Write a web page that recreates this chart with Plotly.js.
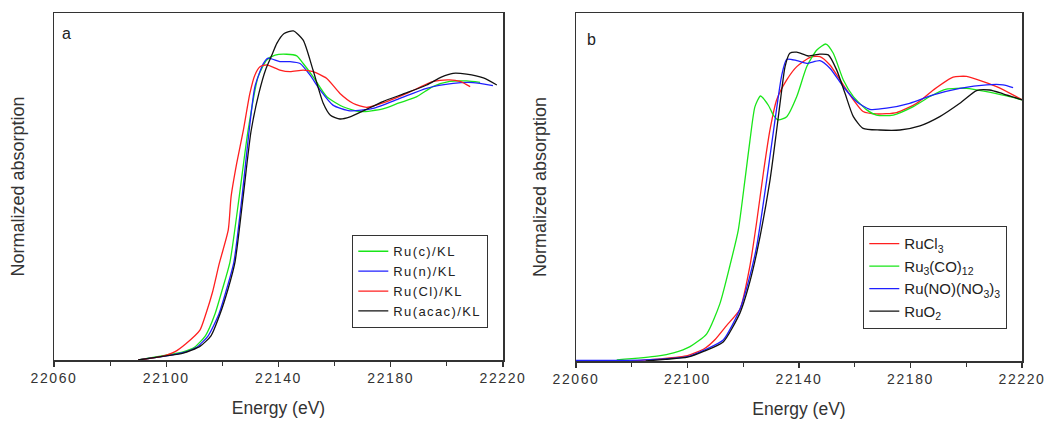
<!DOCTYPE html>
<html>
<head>
<meta charset="utf-8">
<script src="https://cdn.plot.ly/plotly-3.0.1.min.js"></script>
<style>
html,body{margin:0;padding:0;background:#fff;}
#chart{width:1048px;height:421px;}
.xtick text, .x2tick text {letter-spacing:1.6px;}
.legendtext, .legendtext tspan {letter-spacing:1.4px;}
</style>
</head>
<body>
<div id="chart"></div>
<script>
// ---------- Panel a : Ru catalysts on KL ----------
const aNames = ["Ru(c)/KL", "Ru(n)/KL", "Ru(Cl)/KL", "Ru(acac)/KL"];

const aGreenE = [22090, 22100, 22106, 22110.2, 22114, 22117.4, 22120, 22122.7, 22126, 22129.1, 22132.7, 22135.8, 22138.8, 22142.9, 22146.5, 22148.8, 22152.3, 22157.2, 22163, 22169, 22177.2, 22183, 22189.3, 22195, 22201, 22207, 22211.8];
const aGreenV = [0, 0.018, 0.03, 0.048, 0.09, 0.17, 0.26, 0.36, 0.6, 0.84, 1.04, 1.103, 1.121, 1.124, 1.118, 1.09, 1.042, 0.968, 0.931, 0.913, 0.923, 0.945, 0.968, 1.005, 1.024, 1.026, 1.021];

const aBlueE = [22090, 22100, 22106, 22111, 22115, 22118.8, 22121.5, 22124.1, 22127, 22129.5, 22131.6, 22134.6, 22136.3, 22140.5, 22144.1, 22147.7, 22151.2, 22154.8, 22159.4, 22165.5, 22173.7, 22183.3, 22192.8, 22202.2, 22209.3, 22216.4];
const aBlueV = [0, 0.015, 0.027, 0.048, 0.09, 0.17, 0.26, 0.36, 0.6, 0.84, 1.005, 1.09, 1.11, 1.097, 1.097, 1.09, 1.048, 0.993, 0.937, 0.916, 0.925, 0.962, 0.999, 1.017, 1.02, 1.009];

const aRedE = [22090, 22098, 22103, 22107, 22112, 22114.2, 22116.5, 22118.9, 22122.1, 22123.1, 22125.1, 22127.5, 22129.8, 22131.6, 22133.4, 22135.8, 22140.5, 22144.1, 22148.8, 22152.3, 22157.2, 22161.9, 22166.7, 22171.4, 22178.6, 22185.7, 22195.2, 22201, 22204.7, 22208.3];
const aRedV = [0, 0.012, 0.03, 0.06, 0.11, 0.172, 0.25, 0.355, 0.478, 0.6, 0.723, 0.846, 0.98, 1.048, 1.078, 1.085, 1.066, 1.06, 1.066, 1.06, 1.035, 0.98, 0.943, 0.929, 0.95, 0.98, 1.024, 1.03, 1.024, 1.005];

const aBlackE = [22090, 22100, 22106, 22112, 22116, 22119.2, 22122, 22124.5, 22127.4, 22130.2, 22133, 22135.5, 22137.6, 22139.4, 22142, 22145.3, 22148.8, 22152.3, 22155.9, 22158.5, 22161.9, 22165.5, 22170, 22177.2, 22185, 22192.8, 22198, 22202.2, 22207, 22213, 22217.8];
const aBlackV = [0, 0.015, 0.025, 0.05, 0.09, 0.17, 0.26, 0.36, 0.6, 0.84, 0.98, 1.07, 1.12, 1.164, 1.2, 1.21, 1.176, 1.066, 0.945, 0.9, 0.886, 0.894, 0.915, 0.95, 0.98, 1.011, 1.04, 1.054, 1.051, 1.037, 1.011];

// ---------- Panel b : reference compounds ----------
const bNames = ["RuCl<sub>3</sub>", "Ru<sub>3</sub>(CO)<sub>12</sub>", "Ru(NO)(NO<sub>3</sub>)<sub>3</sub>", "RuO<sub>2</sub>"];

const bRedE = [22080, 22090, 22100, 22106, 22110, 22114, 22118.8, 22122.4, 22124.8, 22127.2, 22129.6, 22132, 22135.6, 22139.2, 22144, 22147.5, 22151.1, 22154.7, 22159.5, 22163, 22167.8, 22175, 22182.2, 22188.2, 22195.3, 22200.1, 22206.1, 22212.1, 22220];
const bRedV = [0, 0.008, 0.02, 0.045, 0.08, 0.13, 0.19, 0.35, 0.51, 0.69, 0.85, 0.96, 1.033, 1.082, 1.116, 1.119, 1.088, 1.033, 0.96, 0.917, 0.908, 0.913, 0.947, 0.996, 1.043, 1.046, 1.027, 1.003, 0.96];

const bGreenE = [22074.6, 22089, 22095, 22100.9, 22106.9, 22111.6, 22115.2, 22118.2, 22120.6, 22122.4, 22124.2, 22126.2, 22129, 22130.8, 22132.6, 22135.6, 22139.2, 22142.8, 22146.4, 22149.7, 22152.3, 22155.9, 22159.5, 22164.3, 22167.8, 22173.8, 22181, 22187, 22192.9, 22200.1, 22207.3, 22214.5, 22220];
const bGreenV = [0.004, 0.018, 0.03, 0.053, 0.10, 0.21, 0.35, 0.48, 0.665, 0.81, 0.935, 0.974, 0.94, 0.904, 0.886, 0.898, 0.972, 1.082, 1.143, 1.165, 1.131, 1.033, 0.972, 0.923, 0.904, 0.904, 0.935, 0.972, 0.999, 1.002, 0.99, 0.974, 0.96];

const bBlueE = [22060, 22075, 22085, 22092, 22100, 22106, 22112.8, 22118.8, 22121.8, 22124.8, 22128.4, 22131.4, 22133.8, 22135.6, 22139.2, 22142.8, 22147.5, 22151.1, 22155.9, 22160.7, 22165.4, 22171.4, 22179.7, 22188.2, 22197.7, 22207.3, 22213.2, 22216.8];
const bBlueV = [0.002, 0.002, 0.004, 0.008, 0.016, 0.04, 0.077, 0.19, 0.29, 0.42, 0.665, 0.886, 1.05, 1.109, 1.104, 1.094, 1.104, 1.076, 1.008, 0.953, 0.925, 0.929, 0.947, 0.978, 1.002, 1.015, 1.015, 1.005];

const bBlackE = [22085, 22092, 22100, 22106, 22112.8, 22118.8, 22121.8, 22124.8, 22129.6, 22132, 22133.8, 22135, 22136.7, 22139.2, 22143.3, 22147.5, 22150.5, 22153.5, 22156.5, 22159.5, 22163, 22169, 22176.2, 22183.4, 22190.5, 22197.7, 22203.7, 22208.4, 22213.2, 22220];
const bBlackV = [0, 0.006, 0.014, 0.036, 0.07, 0.176, 0.27, 0.396, 0.665, 0.85, 0.996, 1.082, 1.131, 1.135, 1.121, 1.128, 1.125, 1.07, 0.984, 0.898, 0.855, 0.849, 0.849, 0.864, 0.898, 0.947, 0.994, 0.996, 0.982, 0.96];

const xTickVals = [22060, 22100, 22140, 22180, 22220];
const xTickText = ["22060", "22100", "22140", "22180", "22220"];
const panelLabels = ["a", "b"];
const xTitle = "Energy (eV)";
const yTitle = "Normalized absorption";

const GREEN = "#19e619", BLUE = "#1f1fff", RED = "#ff1f1f", BLACK = "#111111";
const FONT = "Liberation Sans, Arial, sans-serif";

function tr(x, y, name, color, xa, ya, lg, grp) {
  return {x: x, y: y, name: name, type: "scatter", mode: "lines",
    line: {color: color, width: 1.3, shape: "spline", smoothing: 0.6},
    xaxis: xa, yaxis: ya, legend: lg, legendgroup: grp, hoverinfo: "skip"};
}

const traces = [
  tr(aGreenE, aGreenV, aNames[0], GREEN, "x", "y", "legend", "a1"),
  tr(aBlueE, aBlueV, aNames[1], BLUE, "x", "y", "legend", "a2"),
  tr(aRedE, aRedV, aNames[2], RED, "x", "y", "legend", "a3"),
  tr(aBlackE, aBlackV, aNames[3], BLACK, "x", "y", "legend", "a4"),
  tr(bRedE, bRedV, bNames[0], RED, "x2", "y2", "legend2", "b1"),
  tr(bGreenE, bGreenV, bNames[1], GREEN, "x2", "y2", "legend2", "b2"),
  tr(bBlueE, bBlueV, bNames[2], BLUE, "x2", "y2", "legend2", "b3"),
  tr(bBlackE, bBlackV, bNames[3], BLACK, "x2", "y2", "legend2", "b4")
];

function xax(domain, anchor) {
  return {domain: domain, anchor: anchor, range: [22060, 22220], autorange: false,
    tickmode: "array", tickvals: xTickVals, ticktext: xTickText,
    ticks: "outside", ticklen: 5, tickwidth: 1.2, tickcolor: "#333",
    minor: {dtick: 20, tick0: 22060, ticks: "outside", ticklen: 4, tickwidth: 1.2, tickcolor: "#333", showgrid: false},
    showline: true, mirror: true, linecolor: "#333", linewidth: 1.5,
    showgrid: false, zeroline: false, automargin: false,
    tickfont: {family: FONT, size: 14, color: "#333"},
    title: {text: xTitle, font: {family: FONT, size: 17.5, color: "#333"}, standoff: 16}};
}
function yax(domain, anchor, top) {
  return {domain: domain, anchor: anchor, range: [0, top], autorange: false,
    showticklabels: false, ticks: "",
    showline: true, mirror: true, linecolor: "#333", linewidth: 1.5,
    showgrid: false, zeroline: false, automargin: false,
    title: {text: yTitle, font: {family: FONT, size: 18, color: "#333"}, standoff: 23}};
}

const layout = {
  width: 1048, height: 421,
  margin: {l: 0, r: 0, t: 0, b: 0},
  paper_bgcolor: "#fff", plot_bgcolor: "#fff",
  font: {family: FONT, color: "#333"},
  xaxis: xax([54/1048, 503/1048], "y"),
  yaxis: yax([61/421, 408/421], "x", 1.2757),
  xaxis2: xax([576/1048, 1022/1048], "y2"),
  yaxis2: yax([60/421, 408/421], "x2", 1.279),
  legend: {x: 352/1048, y: (421-235)/421, xanchor: "left", yanchor: "top",
    bordercolor: "#333", borderwidth: 1.3, bgcolor: "#fff",
    font: {family: FONT, size: 13, color: "#222"}, tracegroupgap: 0},
  legend2: {x: 863/1048, y: (421-226)/421, xanchor: "left", yanchor: "top",
    bordercolor: "#333", borderwidth: 1.3, bgcolor: "#fff",
    font: {family: FONT, size: 15, color: "#222"}, tracegroupgap: 0},
  showlegend: true,
  annotations: [
    {text: panelLabels[0], xref: "paper", yref: "paper", x: 66/1048, y: (421-33)/421,
     showarrow: false, xanchor: "center", yanchor: "middle", font: {family: FONT, size: 16, color: "#222"}},
    {text: panelLabels[1], xref: "paper", yref: "paper", x: 591/1048, y: (421-40)/421,
     showarrow: false, xanchor: "center", yanchor: "middle", font: {family: FONT, size: 16, color: "#222"}}
  ]
};

Plotly.newPlot("chart", traces, layout, {staticPlot: true, displayModeBar: false});
</script>
</body>
</html>
